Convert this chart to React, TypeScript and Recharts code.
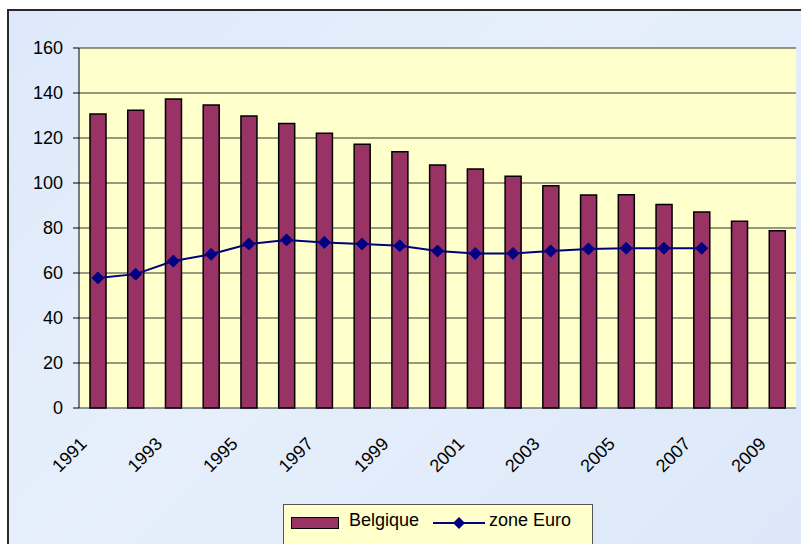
import React from 'react'
import {
  ComposedChart,
  Bar,
  Line,
  XAxis,
  YAxis,
  CartesianGrid,
} from 'recharts'

const YEARS = [
  '1991', '1992', '1993', '1994', '1995', '1996', '1997', '1998', '1999', '2000',
  '2001', '2002', '2003', '2004', '2005', '2006', '2007', '2008', '2009',
]
const BELGIQUE = [
  130.7, 132.3, 137.3, 134.7, 129.8, 126.4, 122.1, 117.2, 113.9, 108,
  106.2, 103, 98.8, 94.7, 94.8, 90.5, 87.1, 83, 78.8,
]
const ZONE_EURO = [
  57.8, 59.5, 65.3, 68.3, 72.9, 74.7, 73.6, 72.9, 72.1, 69.8,
  68.7, 68.7, 69.8, 70.7, 71, 71, 71,
]
const Y_TICKS = [0, 20, 40, 60, 80, 100, 120, 140, 160]
const SERIES_NAMES = ['Belgique', 'zone Euro']

const BAR_COLOR = '#993366'
const LINE_COLOR = '#000080'
const FONT = 'Arial, "Liberation Sans", sans-serif'

const data = YEARS.map((year, i) => ({
  year,
  belgique: BELGIQUE[i],
  euro: i < ZONE_EURO.length ? ZONE_EURO[i] : null,
}))

// boundaries between categories, for Excel-style tick marks
const BOUNDARIES = YEARS.map((_, i) => i).concat(YEARS.length)

const Diamond = (props: any) => {
  const { cx, cy, value } = props
  if (value == null || cx == null || cy == null) return null
  const r = 6
  return (
    <polygon
      points={`${cx},${cy - r} ${cx + r},${cy} ${cx},${cy + r} ${cx - r},${cy}`}
      fill={LINE_COLOR}
      stroke={LINE_COLOR}
    />
  )
}

const YearTick = (props: any) => {
  const { x, y, payload } = props
  return (
    <g transform={`translate(${x - 10},${y + 37})`}>
      <text
        x={0}
        y={0}
        textAnchor="end"
        transform="rotate(-45)"
        fontSize={18}
        fontFamily={FONT}
        fill="#000"
      >
        {payload.value}
      </text>
    </g>
  )
}

export default function App() {
  return (
    <div
      style={{
        position: 'fixed',
        left: 0,
        top: 0,
        width: 801,
        height: 544,
        overflow: 'hidden',
        background: '#ffffff',
      }}
    >
      <div
        style={{
          position: 'absolute',
          left: 7,
          top: 9,
          width: 830,
          height: 580,
          borderLeft: '2px solid #2a2a2a',
          borderTop: '2px solid #2a2a2a',
          background: 'linear-gradient(135deg, #dde9fa 0%, #e6effb 40%, #dbe7f9 100%)',
        }}
      />
      <div style={{ position: 'absolute', left: 0, top: 0 }}>
        <ComposedChart
          width={801}
          height={544}
          data={data}
          margin={{ top: 48, right: 5, left: 0, bottom: 40 }}
        >
          <CartesianGrid
            vertical={false}
            fill="#ffffcc"
            fillOpacity={1}
            stroke="#333"
            strokeWidth={1}
            yAxisId="left"
            xAxisId="cat"
          />
          <XAxis
            xAxisId="num"
            type="number"
            domain={[0, YEARS.length]}
            ticks={BOUNDARIES}
            tick={false}
            tickSize={6}
            height={0}
            stroke="#000"
            allowDataOverflow
          />
          <XAxis
            xAxisId="cat"
            dataKey="year"
            interval={1}
            height={96}
            axisLine={false}
            tickLine={false}
            tickSize={0}
            tickMargin={0}
            tick={<YearTick />}
          />
          <YAxis
            yAxisId="left"
            width={79}
            domain={[0, 160]}
            ticks={Y_TICKS}
            tickSize={6}
            tickMargin={10}
            stroke="#000"
            tick={{ fontSize: 18, fontFamily: FONT, fill: '#000' }}
          />
          <YAxis
            yAxisId="right"
            orientation="right"
            width={0}
            tick={false}
            tickLine={false}
            stroke="#808080"
          />
          <Bar
            xAxisId="cat"
            yAxisId="left"
            dataKey="belgique"
            name={SERIES_NAMES[0]}
            barSize={16}
            fill={BAR_COLOR}
            stroke="#000"
            strokeWidth={1.5}
            isAnimationActive={false}
          />
          <Line
            xAxisId="cat"
            yAxisId="left"
            dataKey="euro"
            name={SERIES_NAMES[1]}
            stroke={LINE_COLOR}
            strokeWidth={2}
            dot={<Diamond />}
            activeDot={false}
            connectNulls={false}
            isAnimationActive={false}
          />
        </ComposedChart>
      </div>
      <div
        style={{
          position: 'absolute',
          left: 283,
          top: 504,
          width: 308,
          height: 60,
          background: '#ffffcc',
          border: '1px solid #555',
          fontFamily: FONT,
          fontSize: 18,
          color: '#000',
        }}
      >
        <div
          style={{
            position: 'absolute',
            left: 7,
            top: 12,
            width: 46,
            height: 10,
            background: BAR_COLOR,
            border: '1px solid #000',
          }}
        />
        <span style={{ position: 'absolute', left: 65, top: 5 }}>{SERIES_NAMES[0]}</span>
        <svg
          style={{ position: 'absolute', left: 149, top: 10 }}
          width={52}
          height={16}
        >
          <line x1={0} y1={8} x2={52} y2={8} stroke={LINE_COLOR} strokeWidth={2} />
          <polygon points="26,2 32,8 26,14 20,8" fill={LINE_COLOR} />
        </svg>
        <span style={{ position: 'absolute', left: 205, top: 5 }}>{SERIES_NAMES[1]}</span>
      </div>
    </div>
  )
}
